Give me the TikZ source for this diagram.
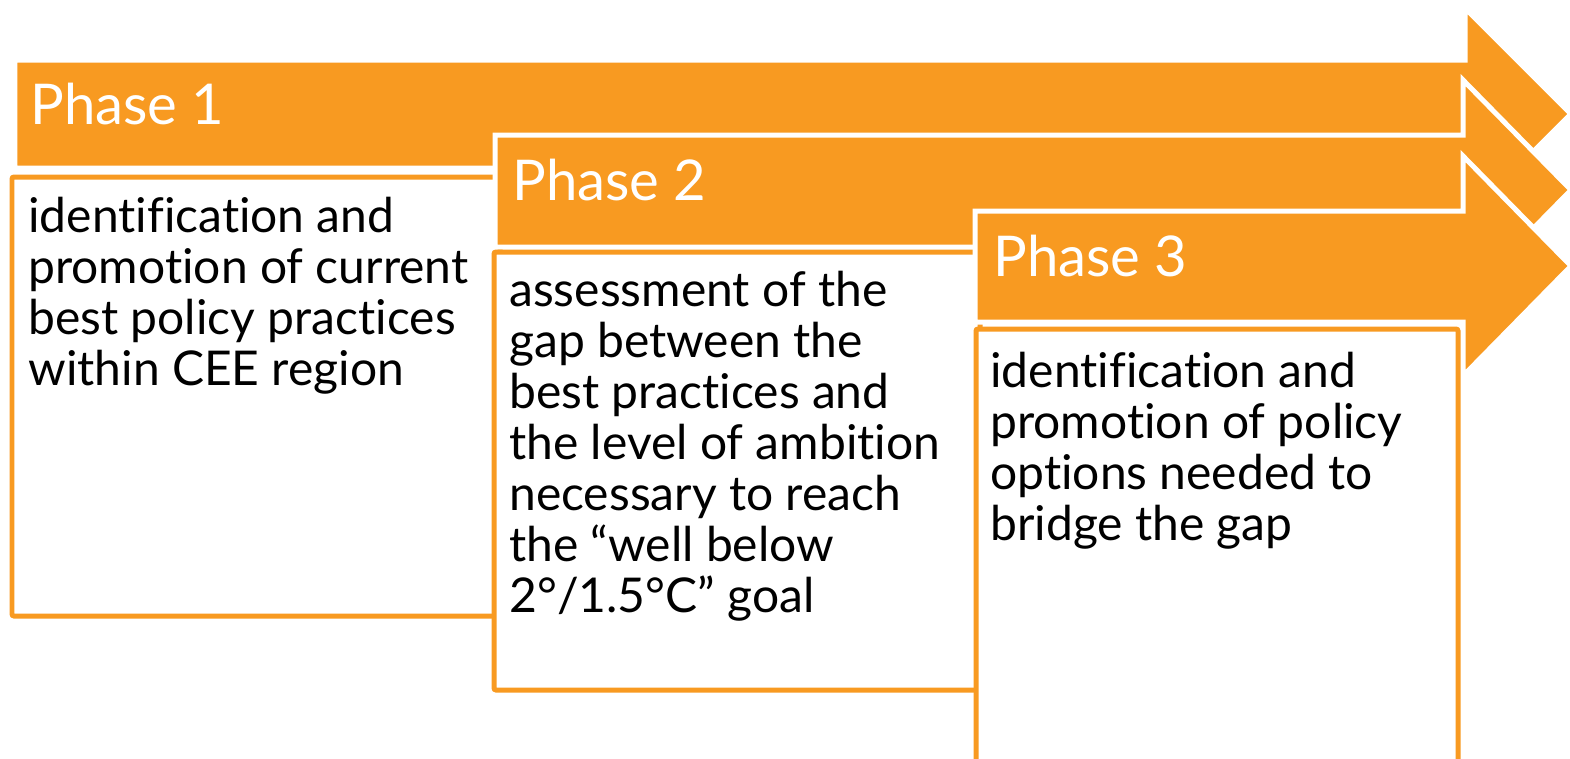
\documentclass[tikz,border=0pt]{standalone}
\usepackage{fontspec}
\setmainfont{Lato}[Ligatures=NoCommon]
\definecolor{phasecolor}{RGB}{248,154,33}

\begin{document}
\begin{tikzpicture}[
    x=0.02cm, y=-0.02cm,
    phasearrow/.style={fill=phasecolor, draw=white, line width=0.1cm, line join=miter},
    phasebox/.style={fill=white, draw=phasecolor, line width=0.1cm, rounded corners=0.04cm},
    phaselabel/.style={anchor=base west, inner sep=0pt, text=white, font=\fontsize{32}{38}\selectfont},
    boxtext/.style={anchor=base west, inner sep=0pt, align=left, font=\fontsize{27.3}{29}\selectfont}
]
\useasboundingbox (0,0) rectangle (1570,758);

% Phase 1 (text anchored on its last line)
\draw[phasearrow] (15,60) -- (1465,60) -- (1465,8) -- (1571,114) -- (1465,220) -- (1465,168) -- (15,168) -- cycle;
\draw[phasebox] (12,177) rectangle (500,616);
\node[phaselabel] (p1) at (30,124) {Phase 1};
\node[boxtext] (t1) at (28,385) {identification and\\promotion of current\\best policy practices\\within CEE region};

% Phase 2
\draw[phasearrow] (495,135) -- (1463,135) -- (1463,80) -- (1571,190) -- (1463,300) -- (1463,247) -- (495,247) -- cycle;
\draw[phasebox] (494,252) rectangle (980,690);
\node[phaselabel] (p2) at (512,200) {Phase 2};
\node[boxtext] (t2) at (509,612) {assessment of the\\gap between the\\best practices and\\the level of ambition\\necessary to reach\\the “well below\\2°/1.5°C” goal};

% Phase 3
\draw[phasearrow] (975,211) -- (1463,211) -- (1463,156) -- (1571,266) -- (1463,376) -- (1463,322) -- (975,322) -- cycle;
\draw[phasebox] (976,329) rectangle (1458,800);
\node[phaselabel] (p3) at (993,276) {Phase 3};
\node[boxtext] (t3) at (990,540) {identification and\\promotion of policy\\options needed to\\bridge the gap};

\end{tikzpicture}
\end{document}
